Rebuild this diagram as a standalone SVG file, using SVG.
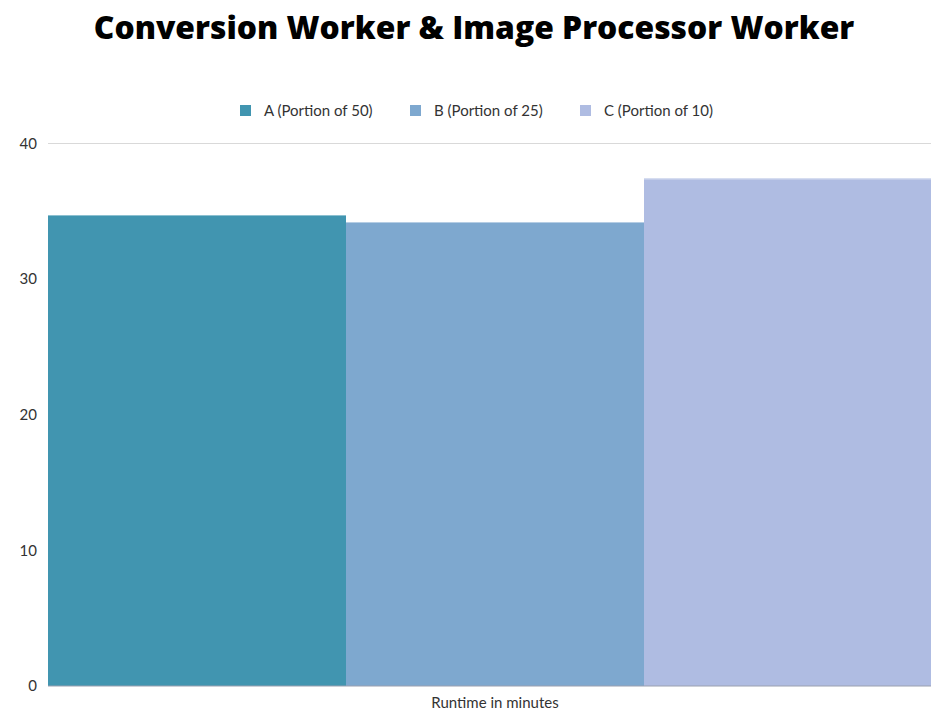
<svg xmlns="http://www.w3.org/2000/svg" width="931" height="713" viewBox="0 0 931 713">
<style>
.title{font-family:"Open Sans","Liberation Sans",sans-serif;font-weight:800;font-size:31.8px;fill:#000}
.lbl{font-family:Lato,"Liberation Sans",sans-serif;font-size:15px;fill:#333}
.grid{stroke:#d9d9d9;stroke-width:1}
</style>
<rect width="931" height="713" fill="#fff"/>
<text class="title" x="474" y="39" text-anchor="middle">Conversion Worker &amp; Image Processor Worker</text>
<g id="legend">
<rect x="240" y="105" width="11" height="11" fill="#4195b0"/>
<text class="lbl" x="264" y="116">A (Portion of 50)</text>
<rect x="410" y="105" width="11" height="11" fill="#7ea8cf"/>
<text class="lbl" x="434" y="116">B (Portion of 25)</text>
<rect x="580" y="105" width="11" height="11" fill="#afbce2"/>
<text class="lbl" x="604" y="116">C (Portion of 10)</text>
</g>
<g id="grid">
<line class="grid" x1="48" y1="143.5" x2="931" y2="143.5"/>
<line class="grid" x1="48" y1="279" x2="931" y2="279"/>
<line class="grid" x1="48" y1="415" x2="931" y2="415"/>
<line class="grid" x1="48" y1="550" x2="931" y2="550"/>
</g>
<g id="yaxis">
<text class="lbl" x="37" y="149" text-anchor="end">40</text>
<text class="lbl" x="37" y="284" text-anchor="end">30</text>
<text class="lbl" x="37" y="420" text-anchor="end">20</text>
<text class="lbl" x="37" y="556" text-anchor="end">10</text>
<text class="lbl" x="37" y="691" text-anchor="end">0</text>
</g>
<g id="barA"><rect x="48" y="215" width="298" height="471" fill="#4195b0"/><line x1="48" y1="215.5" x2="346" y2="215.5" stroke="#8cc0d0"/></g>
<g id="barB"><rect x="346" y="222" width="298" height="464" fill="#7ea8cf"/><line x1="346" y1="222.5" x2="644" y2="222.5" stroke="#b5cde4"/></g>
<g id="barC"><rect x="644" y="178.5" width="287" height="507.5" fill="#afbce2"/><line x1="644" y1="179" x2="931" y2="179" stroke="#d5dcf0"/></g>
<line x1="48" y1="686" x2="931" y2="686" stroke="#9aa0b0" stroke-width="1"/>
<text class="lbl" x="495" y="708" text-anchor="middle">Runtime in minutes</text>
</svg>
